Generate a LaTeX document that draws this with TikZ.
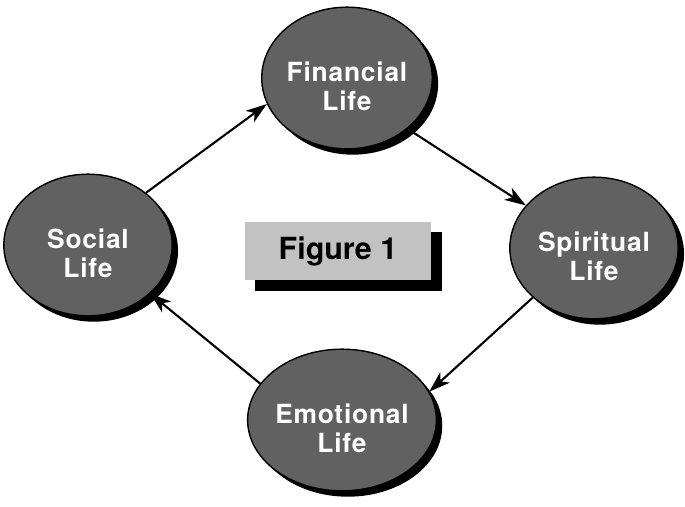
\documentclass[tikz,border=0pt]{standalone}
\usepackage{fontspec}
\setmainfont{TeX Gyre Heros}
\newfontfamily\circfont[LetterSpace=3]{TeX Gyre Heros}
\usetikzlibrary{arrows.meta,shapes.geometric,shadows}

\newcommand{\twoline}[2]{\raisebox{-0.36cm}[\height][\depth]{\begin{tabular}{@{}c@{}}#1\\[-1pt]#2\end{tabular}}}

\tikzset{
	life/.style={ellipse,draw=black,line width=1.2pt,fill=black!62,
		minimum width=5.05cm,minimum height=4.25cm,inner sep=0pt,
		text=white,font=\circfont\bfseries\fontsize{22.5}{26}\selectfont,
		general shadow={fill=black,shadow xshift=5pt,shadow yshift=-5pt}},
	figbox/.style={rectangle,fill=black!24,minimum width=5.6cm,minimum height=1.75cm,
		font=\bfseries\fontsize{26}{30}\selectfont,
		general shadow={fill=black,shadow xshift=9pt,shadow yshift=-9pt}},
	link/.style={->,line width=1.8pt}
}

\begin{document}
\begin{tikzpicture}[>={Stealth[length=18pt,width=12pt,inset=5pt]},x=0.03cm,y=-0.03cm]
				\useasboundingbox (0,0) rectangle (685,506);

				\node[life] (fin) at (347, 78) {\twoline{Financial}{Life}};
				\node[life] (soc) at (88, 245) {\twoline{Social}{Life}};
				\node[life] (spi) at (594, 248) {\twoline{Spiritual}{Life}};
				\node[life] (emo) at (342, 420) {\twoline{Emotional}{Life}};

				\node[figbox] (fig) at (338, 251) {Figure 1};

				\draw[link] (soc.42) -- (fin.198);
				\draw[link] (fin.320) -- (spi.148);
				\draw[link] (spi.219) -- (emo.18);
				\draw[link] (emo.156) -- (soc.322);
			\end{tikzpicture}
\end{document}
